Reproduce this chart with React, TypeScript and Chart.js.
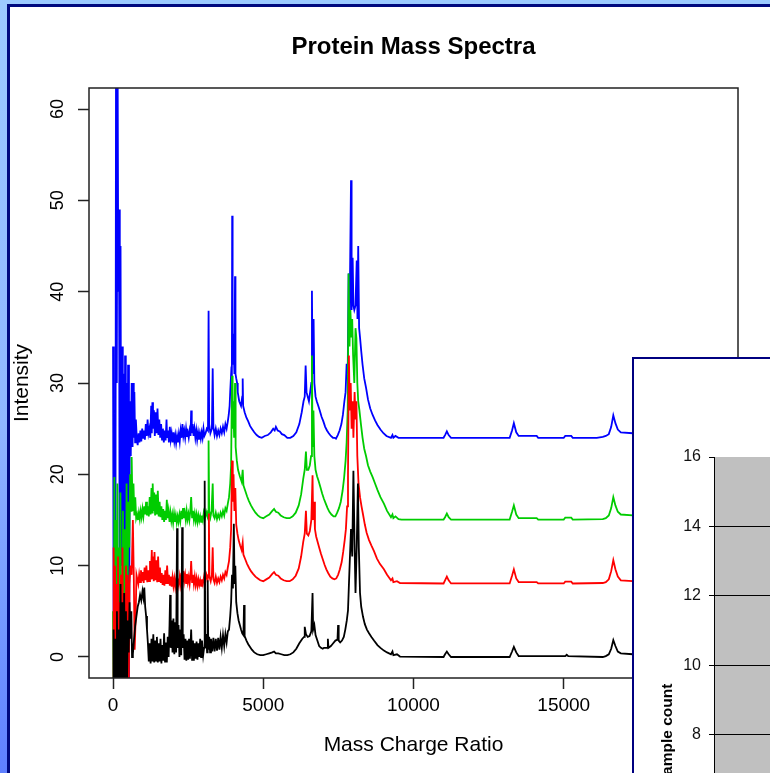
import React, { useEffect, useRef } from "react";
import { Chart, registerables } from "chart.js";

Chart.register(...registerables);

const FONT = "'Liberation Sans', Arial, Helvetica, sans-serif";

// ---------------- main chart data ----------------
const chartTitle = "Protein Mass Spectra";
const xAxisTitle = "Mass Charge Ratio";
const yAxisTitle = "Intensity";
const xTicks = [0, 5000, 10000, 15000, 20000];
const yTicks = [0, 10, 20, 30, 40, 50, 60];

const blueSpectrum: [number, number][] = [
  [0,34],[25,-5],[50,20],[75,-5],[100,68],[125,30],[150,68],[175,40],[200,49],[225,-5],[250,45],[275,10],[300,34],[325,-5],[350,31],[375,5],[400,33],[425,-5],[450,30],[475,8],[500,32],[530,-5],[560,28],[590,22],[620,30],[650,23],[670,30],[690,24],[710,29],[735,23.5],[760,26],
  [790,24],[820,23.2],[850,24.5],[880,23.5],[910,24.8],[940,23.6],[970,25],[1000,24],[1030,24.8],[1060,23.8],[1090,25.5],[1120,24.2],[1150,26],[1180,24.5],[1210,25],[1240,24],
  [1270,27.5],[1290,24.5],[1310,27.9],[1330,25],[1360,27],[1390,24.2],[1420,26.8],[1450,24.5],[1480,27.2],[1510,24.3],[1540,26],[1570,24],[1600,25.5],
  [1630,23.8],[1660,25],[1690,23.5],[1720,24.8],[1750,23.7],[1780,26],[1800,24],[1830,24.8],[1860,23.5],[1890,25.2],[1920,23.8],[1950,24.5],[1980,23.5],[2010,24.6],[2040,23.6],[2070,24.3],[2100,23.4],[2130,24.2],[2160,23.5],[2190,24.4],[2220,23.6],[2250,24.8],[2280,24],[2310,25.5],[2340,24.2],[2370,24.8],[2400,24],[2430,25],[2460,24.1],[2490,24.6],[2520,24],[2550,24.8],[2580,24.2],[2600,27],[2620,24.5],[2650,25.5],[2680,24.2],[2710,25],[2740,24],[2770,24.8],[2800,23.8],[2830,24.6],[2860,23.8],[2890,24.5],[2920,23.9],[2950,24.6],[2980,24],[3010,25],[3040,24.2],[3080,24.5],[3120,25],[3160,24.8],[3180,37.9],[3200,25.5],[3240,24.5],[3290,25],[3317,31.6],[3340,25.2],[3380,24.3],[3420,25],[3460,24.2],[3500,24.8],[3540,24.3],[3580,25],[3620,24.5],[3660,25.2],[3700,24.6],[3740,25.5],[3780,25],[3820,25.8],[3850,26.5],[3880,27.5],[3900,29],[3930,31],[3955,30.5],[3965,48.3],[3980,32],[4000,35.4],[4020,33],[4040,31],[4060,41.7],[4075,31],[4100,30.5],[4130,30],[4150,29],[4200,28],[4260,27.5],[4300,28.5],[4315,30.5],[4330,27.5],[4380,26.8],[4440,26.2],[4500,25.8],[4560,25.3],[4620,25],[4700,24.6],[4780,24.3],[4860,24.1],[4950,24],[5050,24.2],[5150,24.3],[5250,24.6],[5330,25],[5380,24.8],[5420,25.2],[5480,24.8],[5550,24.7],[5620,24.4],[5700,24.3],[5800,24],[5900,24],[6000,24.2],[6100,24.6],[6200,25.5],[6280,26.8],[6340,28],[6380,28.5],[6410,31.9],[6440,29],[6480,28.5],[6520,28],[6560,29],[6600,30],[6620,40.1],[6640,31],[6675,37],[6700,30],[6740,28.5],[6780,28],[6830,27.5],[6880,27],[6940,26.3],[7000,25.8],[7060,25.2],[7120,24.8],[7180,24.5],[7250,24.2],[7320,24],[7380,24],[7420,23.9],[7480,24.3],[7540,24.8],[7600,25.5],[7650,26.5],[7700,28],[7740,29],[7775,32.1],[7810,31],[7840,42],[7870,36],[7920,52.2],[7940,38],[7975,43.7],[8000,38.5],[8030,38],[8070,38.5],[8110,43.4],[8135,37],[8160,45],[8190,36],[8220,35],[8260,33.5],[8305,32],[8360,30.5],[8420,29.5],[8485,28.2],[8560,27.2],[8640,26.5],[8720,25.9],[8800,25.4],[8900,24.9],[9000,24.5],[9100,24.2],[9250,24],[9300,24.3],[9330,24],[9400,24.2],[9500,24],[9600,24],[10000,24],[11000,24],[11050,24.3],[11110,24.7],[11170,24.3],[11250,24],[12800,24],[13200,24],[13280,24.8],[13340,25.6],[13420,24.6],[13500,24.2],[14100,24.2],[14150,24],[15000,24],[15050,24.2],[15250,24.2],[15300,24],[16100,24],[16300,24.1],[16400,24.2],[16500,24.4],[16580,25.2],[16650,26.45],[16720,25.6],[16800,24.9],[16900,24.6],[17300,24.5],[18000,24.3],[19000,24.2],[20000,24.1]
];

const greenSpectrum: [number, number][] = [
  [0,5],[20,-5],[45,19.7],[70,-5],[95,15],[120,2],[145,19],[170,-5],[195,12],[220,-5],[245,18],[270,4],[300,-5],[330,16],[360,-5],[390,14],[420,-5],[450,19],[480,6],[510,17],[540,12],[570,20],[600,16],[620,21.9],[650,16],[680,19],[710,15.5],[740,17.5],[770,15.2],[800,15.6],[830,15],[860,15.8],[890,15.1],[920,16],[950,15.3],[980,16.2],[1010,15.4],[1040,16.5],[1070,15.6],[1100,17],[1130,15.5],[1160,16.5],[1190,15.4],[1220,17.5],[1250,15.6],[1280,18.5],[1300,15.8],[1320,19],[1345,16],[1370,18],[1400,15.5],[1430,17.8],[1460,15.6],[1490,18.2],[1520,15.4],[1550,17],[1580,15.3],[1610,16.5],[1640,15],[1670,16.2],[1700,14.8],[1730,16],[1760,15],[1790,17.2],[1820,15.2],[1850,16],[1880,14.8],[1910,15.8],[1940,14.9],[1970,15.6],[2000,14.7],[2030,15.7],[2060,14.8],[2090,15.5],[2120,14.7],[2150,15.4],[2180,14.8],[2210,15.6],[2240,14.9],[2270,16],[2300,15.1],[2330,16.3],[2360,15.2],[2390,15.8],[2420,15],[2450,16],[2480,15.1],[2510,15.7],[2540,15],[2570,15.9],[2600,17.5],[2630,15.3],[2660,16],[2690,15],[2720,15.7],[2750,14.9],[2780,15.6],[2810,14.8],[2840,15.5],[2870,14.9],[2900,15.4],[2930,14.8],[2960,15.5],[2990,15],[3020,15.8],[3060,15.2],[3100,15.9],[3140,15.4],[3165,16],[3180,23.7],[3200,16],[3240,15.3],[3280,16],[3317,19],[3340,15.5],[3380,15.2],[3420,15.8],[3460,15.1],[3500,15.6],[3540,15.2],[3580,15.8],[3620,15.4],[3660,16],[3700,15.5],[3740,16.3],[3780,16],[3820,16.8],[3860,17.5],[3900,19],[3930,21],[3960,30.8],[3980,25],[4000,28],[4030,24],[4060,30],[4080,23],[4120,21.5],[4160,20.5],[4220,19.8],[4280,19.2],[4315,20.5],[4340,18.8],[4400,18.2],[4460,17.6],[4520,17.1],[4590,16.6],[4660,16.2],[4740,15.8],[4820,15.5],[4900,15.3],[5000,15.2],[5100,15.4],[5200,15.6],[5300,16],[5360,16.2],[5420,15.9],[5500,15.8],[5580,15.5],[5680,15.3],[5780,15.2],[5880,15.2],[5980,15.4],[6080,15.8],[6180,16.6],[6260,17.8],[6330,19.5],[6380,20.5],[6420,22.5],[6450,20.5],[6500,20.5],[6550,21],[6590,22],[6620,33],[6640,23],[6670,27],[6700,22],[6740,20.5],[6790,19.8],[6840,19.3],[6900,18.6],[6960,17.9],[7020,17.3],[7080,16.8],[7140,16.3],[7200,15.9],[7270,15.6],[7340,15.4],[7400,15.4],[7460,15.8],[7520,16.3],[7580,17],[7640,18.2],[7690,19.6],[7740,21.5],[7775,23.5],[7810,27],[7840,42],[7870,34],[7900,38],[7930,35],[7960,37],[7990,33],[8030,30],[8070,36],[8100,34.9],[8130,30],[8160,28],[8200,27],[8250,25.5],[8305,24],[8360,22.8],[8420,22],[8485,21],[8560,20.3],[8640,19.7],[8720,19],[8800,18.3],[8900,17.5],[9015,16.8],[9120,16],[9250,15.3],[9300,15.6],[9330,15.2],[9400,15.4],[9500,15.1],[9600,15.05],[11000,15.05],[11050,15.3],[11110,15.7],[11170,15.3],[11250,15.05],[13200,15.05],[13280,15.9],[13340,16.6],[13420,15.6],[13500,15.2],[14100,15.2],[14150,15.05],[15000,15.05],[15050,15.25],[15250,15.25],[15300,15.05],[16300,15.1],[16400,15.2],[16500,15.5],[16580,16.3],[16650,17.5],[16720,16.6],[16800,15.9],[16900,15.6],[17300,15.5],[18000,15.3],[19000,15.2],[20000,15.1]
];

const redSpectrum: [number, number][] = [
  [0,-5],[20,12],[40,-5],[65,10],[90,-5],[115,8],[140,-5],[165,11],[190,-5],[215,6],[240,-5],[265,9],[290,-5],[315,12],[340,-5],[370,7],[400,-5],[430,10],[460,-5],[490,9],[520,-5],[550,8],[580,10],[620,9],[660,15],[690,9],[720,0.8],[750,4],[780,9],[810,8.5],[840,8],[870,9],[900,8.2],[930,9.5],[960,8.3],[990,9.3],[1020,8.1],[1050,9.8],[1080,8.4],[1110,10],[1140,8.2],[1170,9.5],[1200,8.3],[1230,10.5],[1260,8.5],[1290,11.7],[1310,8.6],[1330,11],[1355,8.3],[1380,11.5],[1410,8.4],[1440,10.6],[1470,8.2],[1500,11],[1530,8.3],[1560,9.8],[1590,8.1],[1620,9.2],[1650,7.9],[1680,9],[1710,7.8],[1740,9.5],[1770,8],[1800,10],[1830,8.1],[1860,9],[1890,7.8],[1920,8.8],[1950,7.7],[1980,8.7],[2010,7.8],[2040,8.6],[2070,7.7],[2100,8.5],[2130,7.8],[2160,8.6],[2190,7.9],[2220,8.8],[2250,8],[2280,9.2],[2310,8.2],[2340,9.4],[2370,8.3],[2400,9],[2430,8.1],[2460,9.1],[2490,8.2],[2520,8.8],[2550,8],[2580,9],[2600,10.5],[2630,8.2],[2660,9],[2690,8],[2720,8.8],[2750,7.9],[2780,8.6],[2810,7.8],[2840,8.5],[2870,7.9],[2900,8.4],[2930,7.8],[2960,8.5],[2990,8],[3030,8.8],[3070,8.2],[3110,9],[3150,8.5],[3175,9],[3190,15.7],[3210,8.8],[3250,8.3],[3290,9],[3317,12],[3340,8.5],[3380,8.1],[3420,8.8],[3460,8.1],[3500,8.6],[3540,8.2],[3580,8.8],[3620,8.4],[3660,9],[3700,8.6],[3740,9.3],[3780,9],[3820,9.8],[3860,10.5],[3900,12],[3930,14],[3960,21.5],[3985,17],[4010,20],[4040,16],[4070,18.5],[4100,14.5],[4140,13.5],[4180,12.8],[4230,12.2],[4280,11.7],[4315,12.5],[4340,11.2],[4400,10.7],[4460,10.2],[4520,9.8],[4590,9.4],[4660,9.1],[4740,8.8],[4820,8.6],[4900,8.4],[5000,8.3],[5100,8.5],[5200,8.7],[5300,9.1],[5360,9.3],[5420,9],[5500,8.9],[5580,8.6],[5680,8.4],[5780,8.3],[5880,8.3],[5980,8.5],[6080,8.9],[6180,9.7],[6260,11],[6330,12.6],[6380,13.5],[6420,16],[6450,13.5],[6500,13.3],[6550,13.8],[6600,15],[6640,19.9],[6660,15],[6690,17],[6720,14],[6760,13.2],[6810,12.6],[6860,12],[6920,11.3],[6980,10.7],[7040,10.1],[7100,9.6],[7160,9.2],[7230,8.8],[7300,8.6],[7370,8.5],[7430,8.6],[7490,9],[7550,9.6],[7610,10.4],[7660,11.5],[7710,12.8],[7750,14],[7790,16.5],[7820,20],[7850,33],[7880,27],[7910,30],[7940,25],[7975,28],[8000,24],[8040,29],[8070,26],[8100,28],[8130,22],[8170,19],[8220,17.5],[8270,16.5],[8320,15.6],[8380,14.5],[8440,13.6],[8520,12.8],[8600,12.2],[8685,11.6],[8780,10.8],[8880,10.2],[9015,9.6],[9120,9],[9250,8.4],[9300,8.6],[9330,8.2],[9450,8.3],[9550,8.1],[11000,8.05],[11050,8.4],[11110,8.8],[11170,8.4],[11250,8.05],[13200,8.05],[13280,8.9],[13340,9.6],[13420,8.6],[13500,8.2],[14100,8.2],[14150,8.05],[15000,8.05],[15050,8.25],[15250,8.25],[15300,8.05],[16300,8.1],[16400,8.2],[16500,8.5],[16580,9.4],[16650,10.6],[16720,9.6],[16800,8.8],[16900,8.4],[17300,8.3],[18000,8.2],[19000,8.1],[20000,8.05]
];

const blackSpectrum: [number, number][] = [
  [0,-5],[20,3],[45,-5],[70,2],[100,-5],[130,5],[160,-5],[190,3],[220,-5],[250,8],[280,-5],[310,6],[340,-5],[370,7],[400,-5],[430,5],[460,-5],[490,4],[520,0.5],[550,6],[580,2],[610,5],[632,0],[660,0.3],[700,2],[740,3.5],[780,4.5],[820,5.5],[860,6],[900,6.8],[940,6.2],[980,7.2],[1010,6.5],[1040,7.6],[1070,5.5],[1100,4.5],[1130,3],[1160,1.5],[1190,-0.5],[1220,1.5],[1250,-0.7],[1280,2],[1310,-0.5],[1340,2.5],[1370,-0.6],[1400,1.8],[1430,-0.4],[1460,2.2],[1490,-0.6],[1520,1.5],[1550,-0.5],[1580,2],[1610,-0.7],[1640,1.3],[1670,-0.4],[1700,2.6],[1730,-0.5],[1760,1.6],[1790,-0.6],[1820,2.2],[1850,0],[1880,3.5],[1900,6.8],[1920,1],[1950,4],[1980,0.5],[2010,4.2],[2040,0.3],[2070,3.8],[2100,0.5],[2130,14.1],[2150,1],[2180,3.5],[2210,0],[2240,3],[2270,0.2],[2300,14.2],[2320,1],[2350,2.5],[2380,-0.3],[2410,2],[2440,-0.4],[2470,1.8],[2500,-0.3],[2530,2],[2560,-0.2],[2600,3],[2630,-0.3],[2660,1.8],[2690,-0.4],[2720,1.5],[2750,-0.2],[2780,1.7],[2810,-0.3],[2840,1.5],[2870,0],[2900,2],[2930,0],[2960,1.8],[3000,0.2],[3030,1],[3050,19.3],[3070,1],[3100,2.5],[3130,0.5],[3150,8.4],[3170,0.8],[3200,2.2],[3230,0.5],[3260,2],[3300,0.6],[3340,2.1],[3380,0.6],[3420,2],[3460,0.7],[3500,2.1],[3540,0.8],[3580,2.2],[3620,1],[3660,2.4],[3700,1.2],[3740,2.5],[3780,1.6],[3820,2.8],[3860,3],[3900,4.5],[3930,6],[3960,9],[3990,7.5],[4020,14.6],[4045,8],[4070,10],[4100,6],[4140,4.8],[4180,4],[4220,3.5],[4260,3],[4300,2.6],[4340,2.4],[4360,5.7],[4380,2.3],[4440,1.8],[4500,1.4],[4560,1.1],[4620,0.8],[4700,0.5],[4800,0.3],[4900,0.2],[5000,0.2],[5100,0.3],[5200,0.4],[5300,0.5],[5360,0.6],[5420,0.4],[5500,0.4],[5600,0.3],[5700,0.2],[5800,0.2],[5900,0.3],[6000,0.5],[6100,0.9],[6200,1.5],[6300,2],[6360,2.2],[6380,3.3],[6420,2.5],[6480,2.2],[6540,2.3],[6600,2.8],[6640,7],[6660,3],[6700,3.5],[6740,2.4],[6800,1.8],[6860,1.2],[6920,1],[6980,0.9],[7020,1],[7130,1],[7150,2],[7170,1],[7250,1.2],[7300,1.4],[7400,1.8],[7470,1.9],[7490,3.5],[7510,1.8],[7560,1.6],[7620,1.8],[7680,2.2],[7730,3],[7780,4],[7820,5.1],[7880,10.6],[7920,14],[7960,11],[8000,20.4],[8040,12],[8070,7],[8110,12],[8150,19],[8180,12],[8220,7],[8260,5.5],[8320,4.4],[8380,3.6],[8450,3],[8520,2.6],[8600,2.2],[8685,1.8],[8800,1.3],[8900,1],[9015,0.7],[9120,0.5],[9250,0.3],[9300,0.6],[9330,0.2],[9450,0.3],[9550,0.05],[11000,0],[11050,0.3],[11110,0.6],[11170,0.3],[11250,0],[13200,0],[13280,0.6],[13340,1.1],[13420,0.5],[13500,0.1],[15050,0.1],[15100,0.25],[15150,0.1],[16300,0],[16400,0.1],[16500,0.3],[16580,0.9],[16650,1.85],[16720,1.2],[16800,0.6],[16900,0.4],[17300,0.3],[18000,0.2],[19000,0.1],[20000,0]
];

// ---------------- overlapping bar chart data ----------------
const countAxisTitle = "Sample count";
const countGroups = ["Group A", "Group B", "Group C"];
const sampleCounts = [5, 12, 15];
const countTicks = [0, 2, 4, 6, 8, 10, 12, 14, 16];

const toPoints = (s: [number, number][]) => s.map(([x, y]) => ({ x, y }));

const plotBox = {
  id: "plotBox",
  afterDatasetsDraw(chart: any) {
    const { ctx, chartArea: a } = chart;
    ctx.save();
    ctx.strokeStyle = "#222";
    ctx.lineWidth = 1.5;
    ctx.strokeRect(a.left, a.top, a.right - a.left, a.bottom - a.top);
    ctx.restore();
  },
};

const plotFill = {
  id: "plotFill",
  beforeDraw(chart: any) {
    const { ctx, chartArea: a } = chart;
    ctx.save();
    ctx.fillStyle = "#c0c0c0";
    ctx.fillRect(a.left, a.top, a.right - a.left, a.bottom - a.top);
    ctx.restore();
  },
};

export default function App() {
  const mainRef = useRef<HTMLCanvasElement>(null);
  const barRef = useRef<HTMLCanvasElement>(null);

  useEffect(() => {
    const tickGrid = {
      display: true,
      drawOnChartArea: false,
      drawTicks: true,
      tickLength: 11,
      tickColor: "#222",
      tickWidth: 1.5,
    };
    const lineDs = (label: string, s: [number, number][], color: string) => ({
      label,
      data: toPoints(s),
      borderColor: color,
      backgroundColor: color,
      borderWidth: 1.8,
      pointRadius: 0,
      tension: 0,
      fill: false,
    });
    const main = new Chart(mainRef.current as HTMLCanvasElement, {
      type: "line",
      data: {
        datasets: [
          lineDs("Spectrum 1", blackSpectrum, "#000000"),
          lineDs("Spectrum 2", redSpectrum, "#ff0000"),
          lineDs("Spectrum 3", greenSpectrum, "#00cc00"),
          lineDs("Spectrum 4", blueSpectrum, "#0000ff"),
        ],
      },
      options: {
        animation: false,
        responsive: false,
        events: [],
        layout: { padding: { left: 0, top: 0, right: 32, bottom: 0 } },
        plugins: {
          legend: { display: false },
          tooltip: { enabled: false },
          title: {
            display: true,
            text: chartTitle,
            fullSize: false,
            color: "#000",
            font: { family: FONT, size: 24, weight: "bold", lineHeight: 1 },
            padding: { top: 35, bottom: 29 },
          },
        },
        scales: {
          x: {
            type: "linear",
            min: -800,
            max: 20800,
            afterBuildTicks: (s: any) => {
              s.ticks = xTicks.map((v) => ({ value: v }));
            },
            afterFit: (s: any) => {
              s.height = 95;
            },
            grid: tickGrid,
            border: { display: false },
            ticks: {
              color: "#000",
              font: { family: FONT, size: 19 },
              padding: 5.5,
              minRotation: 0,
              maxRotation: 0,
              callback: (v: any) => String(v),
            },
            title: {
              display: true,
              text: xAxisTitle,
              color: "#000",
              font: { family: FONT, size: 21 },
              padding: { top: 0, bottom: 15.4 },
            },
          },
          y: {
            type: "linear",
            min: -2.3,
            max: 62.3,
            afterBuildTicks: (s: any) => {
              s.ticks = yTicks.map((v) => ({ value: v }));
            },
            afterFit: (s: any) => {
              s.width = 89;
            },
            grid: tickGrid,
            border: { display: false },
            ticks: {
              color: "#000",
              font: { family: FONT, size: 18 },
              padding: 9.5,
              minRotation: 90,
              maxRotation: 90,
              crossAlign: "center",
              callback: (v: any) => String(v),
            },
            title: {
              display: true,
              text: yAxisTitle,
              color: "#000",
              font: { family: FONT, size: 21 },
              padding: { top: 9.4, bottom: 0 },
            },
          },
        },
      } as any,
      plugins: [plotBox],
    });

    const bars = new Chart(barRef.current as HTMLCanvasElement, {
      type: "bar",
      data: {
        labels: countGroups,
        datasets: [
          {
            label: countAxisTitle,
            data: sampleCounts,
            backgroundColor: "#9999ff",
            borderColor: "#000",
            borderWidth: 1,
          },
        ],
      },
      options: {
        animation: false,
        responsive: false,
        events: [],
        layout: { padding: { left: 0, top: 98, right: 10, bottom: 0 } },
        plugins: { legend: { display: false }, tooltip: { enabled: false } },
        scales: {
          x: {
            type: "category",
            afterFit: (s: any) => {
              s.height = 45;
            },
            grid: { display: false },
            border: { display: true, color: "#000", width: 1 },
            ticks: { color: "#000", font: { family: FONT, size: 16 } },
          },
          y: {
            type: "linear",
            min: 0,
            max: 16,
            afterBuildTicks: (s: any) => {
              s.ticks = countTicks.map((v) => ({ value: v }));
            },
            afterFit: (s: any) => {
              s.width = 80;
            },
            grid: {
              display: true,
              drawOnChartArea: true,
              drawTicks: true,
              tickLength: 5,
              tickColor: "#000",
              lineWidth: 1,
              color: (c: any) => (c.tick && c.tick.value === 16 ? "rgba(0,0,0,0)" : "#000"),
            },
            border: { display: true, color: "#000", width: 1 },
            ticks: {
              color: "#111",
              font: { family: FONT, size: 16 },
              padding: 8,
              callback: (v: any) => String(v),
            },
            title: {
              display: true,
              text: countAxisTitle,
              color: "#000",
              font: { family: FONT, size: 15.5, weight: "bold", lineHeight: 1.2 },
              padding: { top: 24, bottom: 0 },
            },
          },
        },
      } as any,
      plugins: [plotFill],
    });

    return () => {
      main.destroy();
      bars.destroy();
    };
  }, []);

  return (
    <div
      style={{
        position: "fixed",
        left: 0,
        top: 0,
        width: 770,
        height: 773,
        overflow: "hidden",
        background: "#9ccaff",
      }}
    >
      <div
        style={{
          position: "absolute",
          left: 0,
          top: 0,
          width: 8,
          height: 773,
          background: "linear-gradient(to bottom, #9ccaff 0%, #8fb6ff 55%, #5f80ff 100%)",
        }}
      />
      <div
        style={{
          position: "absolute",
          left: 7,
          top: 4,
          width: 800,
          height: 800,
          background: "#ffffff",
          borderLeft: "3px solid #00097f",
          borderTop: "3px solid #00097f",
        }}
      />
      <canvas
        ref={mainRef}
        width={770}
        height={773}
        style={{ position: "absolute", left: 0, top: 0, display: "block" }}
      />
      <div
        style={{
          position: "absolute",
          left: 632,
          top: 357,
          width: 520,
          height: 720,
          background: "#ffffff",
          borderLeft: "2px solid #000080",
          borderTop: "2px solid #000080",
        }}
      >
        <canvas ref={barRef} width={498} height={698} style={{ display: "block" }} />
      </div>
    </div>
  );
}
